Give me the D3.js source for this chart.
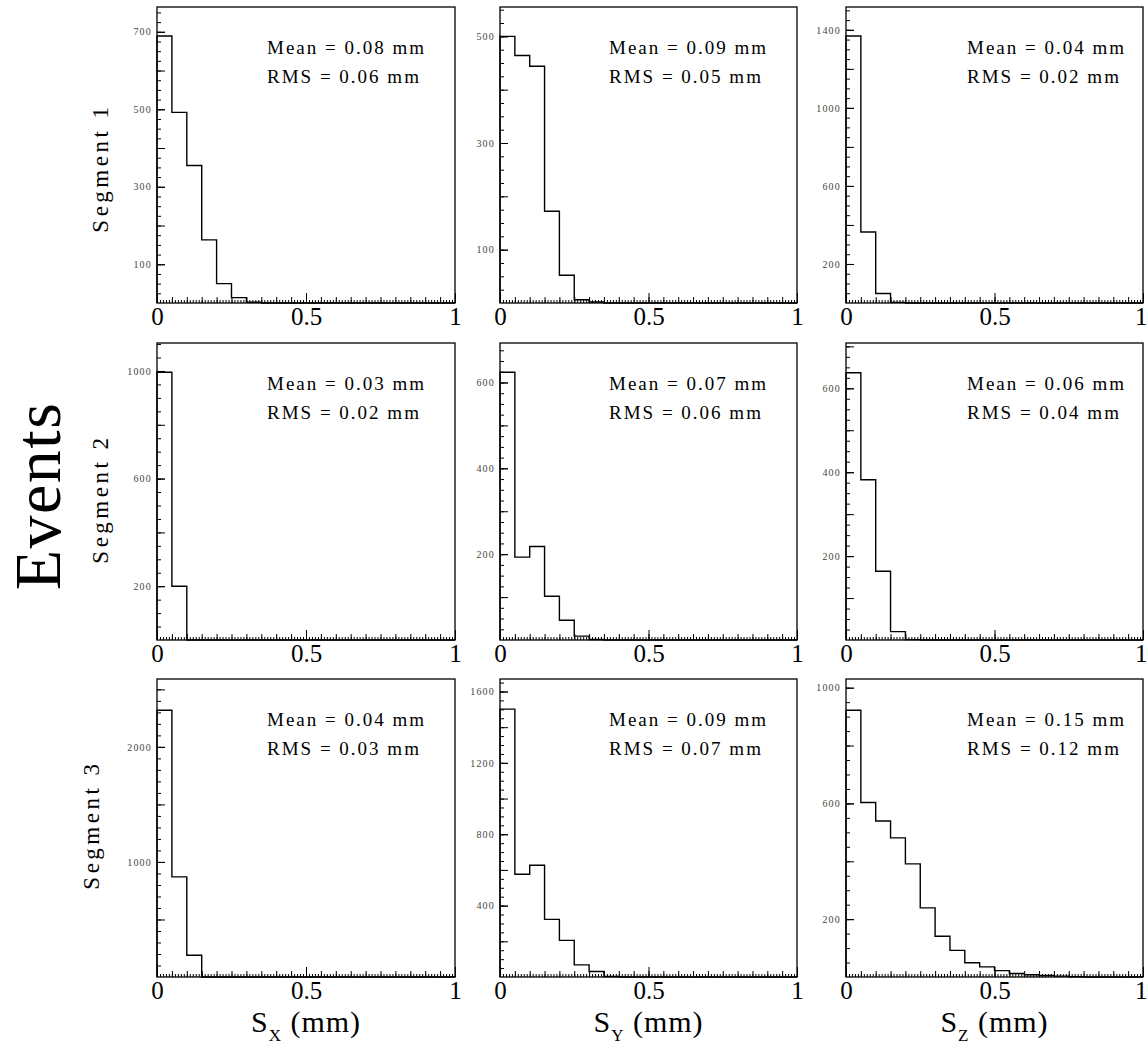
<!DOCTYPE html>
<html>
<head>
<meta charset="utf-8">
<script src="https://cdn.jsdelivr.net/npm/d3@7"></script>
<style>
  html, body { margin: 0; padding: 0; background: #fff; }
  svg { display: block; }
  text { font-family: "Liberation Serif", "Times New Roman", serif; }
</style>
</head>
<body>
<svg id="chart" width="1148" height="1049"></svg>
<script>
// ---------------- data ----------------
const binWidth = 0.05;
const xLabels = [0, 0.5, 1];
const segments = ["Segment 1", "Segment 2", "Segment 3"];
const axisNames = ["X", "Y", "Z"];

// counts per bin (bins of 0.05 mm starting at 0)
const seg1X = [689, 492, 355, 163, 50, 14, 2];
const seg1Y = [500, 464, 444, 172, 52, 6, 2];
const seg1Z = [1368, 364, 49, 3];
const seg2X = [995, 200];
const seg2Y = [624, 193, 218, 102, 46, 9, 1];
const seg2Z = [637, 382, 164, 20, 1];
const seg3X = [2319, 870, 189];
const seg3Y = [1501, 576, 626, 323, 205, 68, 31, 3];
const seg3Z = [922, 603, 539, 481, 391, 239, 141, 92, 49, 35, 22, 12, 8, 5, 3, 1];

const means = ["0.08", "0.09", "0.04", "0.03", "0.07", "0.06", "0.04", "0.09", "0.15"];
const rmss  = ["0.06", "0.05", "0.02", "0.02", "0.06", "0.04", "0.03", "0.07", "0.12"];

const yMax = [764, 555, 1517, 1104, 692, 708, 2590, 1670, 1030];
const yLabels = [
  [100, 300, 500, 700], [100, 300, 500], [200, 600, 1000, 1400],
  [200, 600, 1000], [200, 400, 600], [200, 400, 600],
  [1000, 2000], [400, 800, 1200, 1600], [200, 600, 1000]
];
const yMajorStep = [100, 100, 200, 200, 100, 100, 500, 200, 200];
const yMinorStep = [25, 25, 50, 50, 25, 25, 100, 50, 50];

const panelCounts = [seg1X, seg1Y, seg1Z, seg2X, seg2Y, seg2Z, seg3X, seg3Y, seg3Z];

// ---------------- layout ----------------
const cols = [{l: 157, r: 455}, {l: 500, r: 797}, {l: 846, r: 1143}];
const rows = [{t: 7, b: 303}, {t: 343, b: 640}, {t: 679, b: 977}];
const textX = [267, 609, 967];

const svg = d3.select("#chart");

panelCounts.forEach((counts, idx) => {
  const ri = Math.floor(idx / 3), ci = idx % 3;
  const c = cols[ci], r = rows[ri];
  const x = d3.scaleLinear().domain([0, 1]).range([c.l, c.r]);
  const y = d3.scaleLinear().domain([0, yMax[idx]]).range([r.b, r.t]);
  const g = svg.append("g");

  // minor y ticks
  const minorVals = d3.range(0, yMax[idx] + 1e-9, yMinorStep[idx]).filter(v => v > 0);
  const ym = g.append("g").attr("transform", `translate(${c.l},0)`)
    .call(d3.axisLeft(y).tickValues(minorVals).tickSize(-4).tickFormat(""));
  ym.select(".domain").remove();
  // major y ticks
  const majorVals = d3.range(0, yMax[idx] + 1e-9, yMajorStep[idx]).filter(v => v > 0);
  const yM = g.append("g").attr("transform", `translate(${c.l},0)`)
    .call(d3.axisLeft(y).tickValues(majorVals).tickSize(-8).tickFormat(""));
  yM.select(".domain").remove();
  // labels
  const yl = g.append("g").attr("transform", `translate(${c.l},0)`)
    .call(d3.axisLeft(y).tickValues(yLabels[idx]).tickSize(-8).tickPadding(5).tickFormat(d3.format("d")));
  yl.select(".domain").remove();
  yl.selectAll("text").attr("font-size", 10).attr("fill", "#444")
    .attr("font-family", "Liberation Serif, serif").style("letter-spacing", "1.2px");

  // x ticks
  const xMinor = d3.range(0, 1.0001, 0.01);
  const xm = g.append("g").attr("transform", `translate(0,${r.b})`)
    .call(d3.axisBottom(x).tickValues(xMinor).tickSize(-3).tickFormat(""));
  xm.select(".domain").remove();
  const xMid = d3.range(0, 1.0001, 0.05);
  const xM = g.append("g").attr("transform", `translate(0,${r.b})`)
    .call(d3.axisBottom(x).tickValues(xMid).tickSize(-6).tickFormat(""));
  xM.select(".domain").remove();
  const xl = g.append("g").attr("transform", `translate(0,${r.b})`)
    .call(d3.axisBottom(x).tickValues(xLabels).tickSize(-10).tickPadding(4).tickFormat(d => d3.format("")(d)));
  xl.select(".domain").remove();
  xl.selectAll("text").attr("font-size", 25).attr("fill", "#000")
    .attr("font-family", "Liberation Serif, serif");
  // keep the last label of the right-most column inside the page
  if (ci === 2) {
    xl.selectAll("text").filter(d => d === 1).attr("text-anchor", "end").attr("x", 4);
  }

  g.selectAll(".tick line").attr("stroke", "#000").attr("stroke-width", 1);

  // histogram outline
  const pts = [[0, 0]];
  counts.forEach((v, i) => { pts.push([i * binWidth, v]); pts.push([(i + 1) * binWidth, v]); });
  pts.push([counts.length * binWidth, 0]);
  pts.push([1, 0]);
  g.append("path")
    .attr("d", d3.line().x(d => x(d[0])).y(d => y(d[1]))(pts))
    .attr("fill", "none").attr("stroke", "#000").attr("stroke-width", 1.4);

  // frame
  g.append("rect").attr("x", c.l).attr("y", r.t).attr("width", c.r - c.l).attr("height", r.b - r.t)
    .attr("fill", "none").attr("stroke", "#000").attr("stroke-width", 1.3);

  // stats text
  const tx = textX[ci];
  g.append("text").attr("x", tx).attr("y", r.t + 47).attr("font-size", 19)
    .style("letter-spacing", "2px").text(`Mean = ${means[idx]} mm`);
  g.append("text").attr("x", tx).attr("y", r.t + 76).attr("font-size", 19)
    .style("letter-spacing", "2px").text(`RMS = ${rmss[idx]} mm`);
});

// Segment labels
const segX = [100, 100, 91];
const segY = [168, 499, 825];
segments.forEach((s, i) => {
  svg.append("text").attr("transform", `translate(${segX[i]},${segY[i]}) rotate(-90)`)
    .attr("text-anchor", "middle").attr("dominant-baseline", "central")
    .attr("font-size", 23).style("letter-spacing", "3.5px").text(s);
});

// Events
svg.append("text").attr("transform", `translate(37,496) rotate(-90)`)
  .attr("text-anchor", "middle").attr("dominant-baseline", "central")
  .attr("font-size", 66).style("letter-spacing", "1.5px").text("Events");

// x-axis titles
axisNames.forEach((a, i) => {
  const cx = (cols[i].l + cols[i].r) / 2;
  const t = svg.append("text").attr("x", cx).attr("y", 1032).attr("text-anchor", "middle")
    .attr("font-size", 30).style("letter-spacing", "1px");
  t.append("tspan").text("S");
  t.append("tspan").attr("font-size", 17).attr("dy", 9).text(a);
  t.append("tspan").attr("dy", -9).text(" (mm)");
});
</script>
</body>
</html>
